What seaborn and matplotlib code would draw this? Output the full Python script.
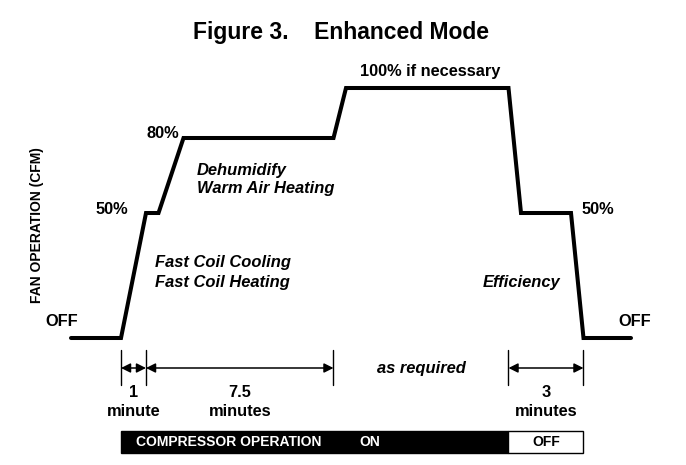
import numpy as np
import pandas as pd
import seaborn as sns
import matplotlib.pyplot as plt

# fan profile, time in minutes from compressor start, fan in %
fan_time = [-2.0, 0.0, 1.0, 1.5, 2.5, 8.5, 9.0, 15.5, 16.0, 18.0, 18.5, 20.4]
fan_pct = [0, 0, 50, 50, 80, 80, 100, 100, 50, 50, 0, 0]

# duration markers
span_edges = [0.0, 1.0, 8.5, 15.5, 18.5]
spans = [(0.0, 1.0, "1", "minute"), (1.0, 8.5, "7.5", "minutes"), (15.5, 18.5, "3", "minutes")]

# compressor state bar
compressor_on = (0.0, 15.5)
compressor_off = (15.5, 18.5)

sns.set_theme(style="white")
plt.rcParams['font.family'] = ['Liberation Sans', 'DejaVu Sans']
plt.rcParams['text.color'] = 'black'

fig = plt.figure(figsize=(6.86, 4.65), dpi=100)
ax = fig.add_axes([0, 0, 1, 1])

df = pd.DataFrame({"time": fan_time, "fan": fan_pct})
sns.lineplot(data=df, x="time", y="fan", sort=False, estimator=None,
             color="black", linewidth=2.9, ax=ax)
ax.lines[0].set_solid_joinstyle("miter")

ax.set_xlim(-4.84, 22.6)
ax.set_ylim(-50.8, 135.2)
ax.axis("off")

# level labels
lvl = dict(fontsize=11.8, fontweight="bold", ha="center", va="center")
ax.text(-2.36, 6.8, "OFF", **lvl)
ax.text(-0.36, 51.2, "50%", **lvl)
ax.text(1.68, 82, "80%", **lvl)
ax.text(12.36, 106.4, "100% if necessary", **lvl)
ax.text(19.08, 51.2, "50%", **lvl)
ax.text(20.56, 6.8, "OFF", **lvl)

mode = dict(fontsize=11.9, fontweight="bold", style="italic", va="center")
ax.text(3.04, 67.2, "Dehumidify", ha="left", **mode)
ax.text(3.04, 59.6, "Warm Air Heating", ha="left", **mode)
ax.text(1.36, 30.4, "Fast Coil Cooling", ha="left", **mode)
ax.text(1.36, 22.4, "Fast Coil Heating", ha="left", **mode)
ax.text(16.04, 22.0, "Efficiency", ha="center", **mode)

ax.text(-3.36, 45.2, "FAN OPERATION (CFM)", rotation=90, fontsize=10,
        fontweight="bold", ha="center", va="center")

fig.text(0.497, 0.931, "Figure 3.    Enhanced Mode", fontsize=16.5,
         fontweight="bold", ha="center", va="center")

# duration ticks and arrows
for t in span_edges:
    ax.plot([t, t], [-4.8, -18.8], color="black", lw=1)
for a, b, num, unit in spans:
    ax.annotate("", xy=(a, -12), xytext=(b, -12),
                arrowprops=dict(arrowstyle="<|-|>", color="black", lw=1.1,
                                mutation_scale=14, shrinkA=0, shrinkB=0))
    ax.text((a + b) / 2, -21.6, num, fontsize=11.8, fontweight="bold",
            ha="center", va="center")
    ax.text((a + b) / 2, -29.2, unit, fontsize=11.8, fontweight="bold",
            ha="center", va="center")
ax.text(12.0, -12, "as required", fontsize=11.9, fontweight="bold",
        style="italic", ha="center", va="center")

# compressor bar
ax.barh(-41.6, compressor_on[1] - compressor_on[0], left=compressor_on[0],
        height=8.8, color="black", edgecolor="black", lw=1)
ax.barh(-41.6, compressor_off[1] - compressor_off[0], left=compressor_off[0],
        height=8.8, color="white", edgecolor="black", lw=1)
ax.text(0.6, -41.6, "COMPRESSOR OPERATION", fontsize=10, fontweight="bold",
        color="white", ha="left", va="center")
ax.text(9.96, -41.6, "ON", fontsize=10, fontweight="bold", color="white",
        ha="center", va="center")
ax.text(17.0, -41.6, "OFF", fontsize=10, fontweight="bold", color="black",
        ha="center", va="center")

fig.savefig("out.png", dpi=100, facecolor="white")
